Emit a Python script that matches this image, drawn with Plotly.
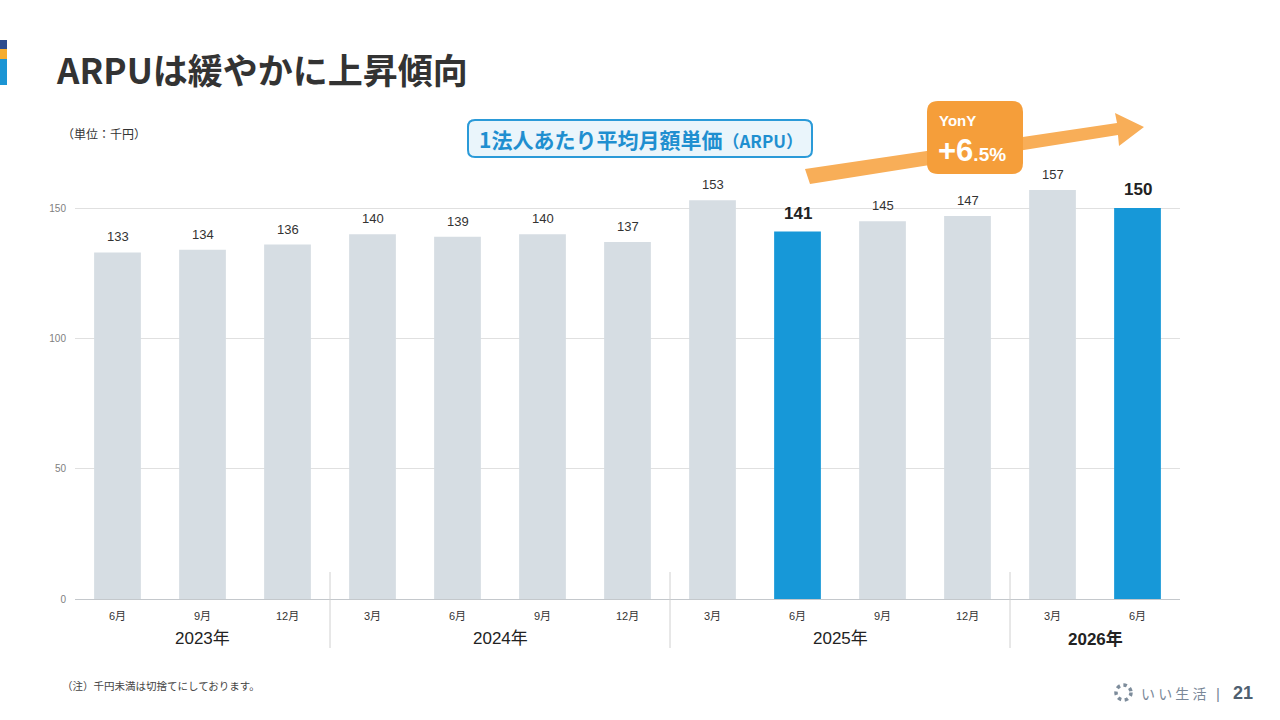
import plotly.graph_objects as go

# ARPU (千円) by quarter end month
months = ["6月", "9月", "12月", "3月", "6月", "9月", "12月", "3月", "6月", "9月", "12月", "3月", "6月"]
arpu = [133, 134, 136, 140, 139, 140, 137, 153, 141, 145, 147, 157, 150]
highlight = [0, 0, 0, 0, 0, 0, 0, 0, 1, 0, 0, 0, 1]
years = ["2023年", "2024年", "2025年", "2026年"]
months_per_year = [3, 4, 4, 2]
y_ticks = [0, 50, 100, 150]

GRAY = "#d6dde3"
BLUE = "#1798d8"
ORANGE = "#f59e3a"
NUM_FONT = "Liberation Sans, Noto Sans CJK JP"
JP_FONT = "Noto Sans CJK JP"

# plot area sits at 75..1180 x 156..599 on the page
L, R, T, B = 75, 100, 156, 121
W = 1280 - L - R
H = 720 - T - B


def px(x):
    return (x - L) / W


def py(y):
    return (720 - B - y) / H


def path(points):
    return "M " + " L ".join(f"{px(x):.5f},{py(y):.5f}" for x, y in points) + " Z"


def rrect(x0, y0, x1, y1, r):
    def p(x, y):
        return f"{px(x):.5f},{py(y):.5f}"
    return (f"M {p(x0 + r, y0)} L {p(x1 - r, y0)} Q {p(x1, y0)} {p(x1, y0 + r)} "
            f"L {p(x1, y1 - r)} Q {p(x1, y1)} {p(x1 - r, y1)} L {p(x0 + r, y1)} "
            f"Q {p(x0, y1)} {p(x0, y1 - r)} L {p(x0, y0 + r)} Q {p(x0, y0)} {p(x0 + r, y0)} Z")


xs = list(range(len(arpu)))
colors = [BLUE if h else GRAY for h in highlight]

fig = go.Figure(go.Bar(x=xs, y=arpu, marker_color=colors, marker_line_width=0,
                       width=0.55, hoverinfo="skip"))

annotations = []
shapes = []

# value labels
for i, v in enumerate(arpu):
    bold = highlight[i] == 1
    annotations.append(dict(
        x=i, y=v, xref="x", yref="y", yanchor="bottom", showarrow=False,
        text=f"<b>{v}</b>" if bold else str(v), yshift=7 if bold else 6,
        font=dict(family=NUM_FONT, size=17 if bold else 13, color="#333333" if not bold else "#222222")))

# month labels
for i, m in enumerate(months):
    annotations.append(dict(
        x=i, y=0, xref="x", yref="paper", yanchor="top", showarrow=False,
        text=m, yshift=-9, font=dict(family=NUM_FONT, size=11, color="#333333")))

# year labels and separators
start = 0
for k, (yr, n) in enumerate(zip(years, months_per_year)):
    mid = start + (n - 1) / 2
    last = k == len(years) - 1
    annotations.append(dict(
        x=mid, y=0, xref="x", yref="paper", yanchor="top", showarrow=False,
        text=f"<b>{yr}</b>" if last else yr, yshift=-28,
        font=dict(family=NUM_FONT, size=17, color="#222222")))
    if start > 0:
        shapes.append(dict(type="line", xref="x", yref="paper", x0=start - 0.5, x1=start - 0.5,
                           y0=py(572), y1=py(648), line=dict(color="#d0d0d0", width=1)))
    start += n

# title and side logo
annotations.append(dict(
    x=px(54), y=py(68), xref="paper", yref="paper", xanchor="left", yanchor="middle",
    showarrow=False, text="<b>ARPUは緩やかに上昇傾向</b>",
    font=dict(family=JP_FONT, size=35, color="#333333")))
for y0, y1, c in [(40, 49, "#2c4b8c"), (49, 59, "#f5ac2e"), (59, 85, "#1b95d4")]:
    shapes.append(dict(type="rect", xref="paper", yref="paper", x0=px(0), x1=px(7),
                       y0=py(y1), y1=py(y0), fillcolor=c, line_width=0))

annotations.append(dict(
    x=px(60), y=py(133), xref="paper", yref="paper", xanchor="left", yanchor="middle",
    showarrow=False, text="（単位：千円）", font=dict(family=JP_FONT, size=12, color="#333333")))

# series label box
shapes.append(dict(type="path", xref="paper", yref="paper", path=rrect(468, 120, 812, 157, 7),
                   fillcolor="#eaf5fb", line=dict(color="#2a9ad8", width=2)))
annotations.append(dict(
    x=px(477), y=py(139), xref="paper", yref="paper", xanchor="left", yanchor="middle",
    showarrow=False,
    text="<b>1法人あたり平均月額単価<span style='font-size:17px'>（ARPU）</span></b>",
    font=dict(family=JP_FONT, size=21, color="#1f8fd0")))

# growth arrow and YonY badge
shapes.append(dict(type="path", xref="paper", yref="paper", layer="above",
                   path=path([(805, 169), (1117, 123), (1115, 113), (1144, 127),
                              (1119, 146), (1118, 135), (810, 184)]),
                   fillcolor="#f8ae58", line_width=0))
shapes.append(dict(type="path", xref="paper", yref="paper", layer="above",
                   path=rrect(927, 101, 1023, 174, 11), fillcolor=ORANGE, line_width=0))
annotations.append(dict(
    x=px(937), y=py(120), xref="paper", yref="paper", xanchor="left", yanchor="middle",
    showarrow=False, text="<b>YonY</b>", font=dict(family=NUM_FONT, size=15, color="white")))
annotations.append(dict(
    x=px(936), y=py(151), xref="paper", yref="paper", xanchor="left", yanchor="middle",
    showarrow=False, text="<b><span style='font-size:31px'>+6</span>.5%</b>",
    font=dict(family=NUM_FONT, size=19, color="white")))

# footnote
annotations.append(dict(
    x=px(60), y=py(685), xref="paper", yref="paper", xanchor="left", yanchor="middle",
    showarrow=False, text="（注）千円未満は切捨てにしております。",
    font=dict(family=JP_FONT, size=10.5, color="#444444")))

# footer brand and page number
shapes.append(dict(type="circle", xref="paper", yref="paper", x0=px(1116), x1=px(1131),
                   y0=py(700), y1=py(685), line=dict(color="#7d8c9b", width=3.5, dash="dot")))
annotations.append(dict(
    x=px(1139), y=py(693), xref="paper", yref="paper", xanchor="left", yanchor="middle",
    showarrow=False, text="い い 生 活", font=dict(family=JP_FONT, size=14, color="#7a8898")))
annotations.append(dict(
    x=px(1218), y=py(693), xref="paper", yref="paper", xanchor="center", yanchor="middle",
    showarrow=False, text="|", font=dict(family=NUM_FONT, size=15, color="#7a8898")))
annotations.append(dict(
    x=px(1255), y=py(693), xref="paper", yref="paper", xanchor="right", yanchor="middle",
    showarrow=False, text="<b>21</b>", font=dict(family=NUM_FONT, size=18, color="#4f5f70")))

fig.update_layout(
    width=1280, height=720,
    margin=dict(l=L, r=R, t=T, b=B, pad=0),
    paper_bgcolor="white", plot_bgcolor="white",
    showlegend=False,
    xaxis=dict(range=[-0.5, len(arpu) - 0.5], showticklabels=False, showgrid=False,
               zeroline=False, showline=True, linecolor="#c4c8cc", linewidth=1, fixedrange=True),
    yaxis=dict(range=[0, 170], tickvals=y_ticks, showgrid=True, gridcolor="#e0e0e0",
               zeroline=False, ticks="", ticklabelstandoff=8,
               tickfont=dict(family=NUM_FONT, size=10, color="#808080"), fixedrange=True),
    annotations=annotations,
    shapes=shapes,
)

# drop the default 8px body margin so the 1280x720 figure fills the window exactly
fig.write_html("out.html", config={"displayModeBar": False},
               post_script="document.body.style.margin = '0px';")
